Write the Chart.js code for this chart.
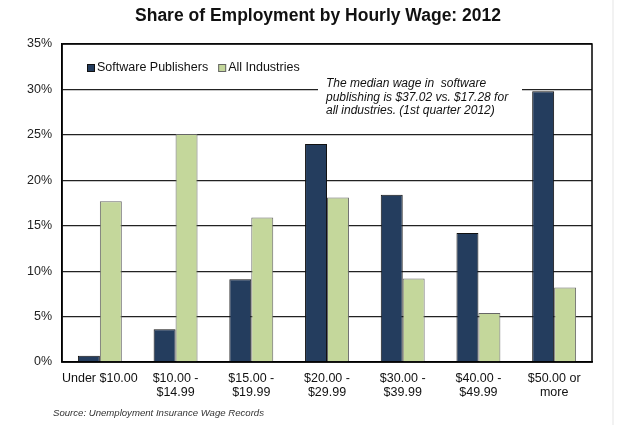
<!DOCTYPE html>
<html>
<head>
<meta charset="utf-8">
<script src="https://cdn.jsdelivr.net/npm/chart.js@4/dist/chart.umd.min.js"></script>
<style>
  html, body { margin: 0; padding: 0; background: #fff; }
  #wrap { width: 640px; height: 425px; position: relative; }
</style>
</head>
<body>
<div id="wrap"><canvas id="wages"></canvas></div>
<script>
const categories = [
  ['Under $10.00'],
  ['$10.00 -', '$14.99'],
  ['$15.00 -', '$19.99'],
  ['$20.00 -', '$29.99'],
  ['$30.00 -', '$39.99'],
  ['$40.00 -', '$49.99'],
  ['$50.00 or', 'more']
]
const softwarePublishers = [0.7, 3.6, 9.1, 24.0, 18.4, 14.2, 29.8]
const allIndustries = [17.7, 25.1, 15.9, 18.1, 9.2, 5.4, 8.2]
const seriesNames = ['Software Publishers', 'All Industries']
const titleText = 'Share of Employment by Hourly Wage: 2012'
const noteLines = [
  'The median wage in  software',
  'publishing is $37.02 vs. $17.28 for',
  'all industries. (1st quarter 2012)'
]
const sourceText = 'Source: Unemployment Insurance Wage Records'

const navy = '#243d5e'
const green = '#c4d79b'

// title, legend, note box, frame and source line drawn on top of the plot
const extras = {
  id: 'extras',
  afterDraw(chart) {
    const ctx = chart.ctx
    const area = chart.chartArea
    ctx.save()

    // title, centred on the page
    ctx.fillStyle = '#111'
    ctx.font = 'bold 17.5px "Liberation Sans", Arial, sans-serif'
    ctx.textAlign = 'center'
    ctx.textBaseline = 'middle'
    ctx.fillText(titleText, 318, 16.5)

    // frame round the plot
    ctx.strokeStyle = '#000'
    ctx.lineWidth = 1.5
    ctx.strokeRect(area.left, area.top, area.right - area.left, area.bottom - area.top)

    // legend inside the plot
    ctx.font = '12.5px "Liberation Sans", Arial, sans-serif'
    ctx.textAlign = 'left'
    let x = 87
    const y = 68
    chart.data.datasets.forEach(ds => {
      ctx.fillStyle = ds.backgroundColor
      ctx.fillRect(x, y - 4, 8, 8)
      ctx.strokeStyle = ds.borderColor
      ctx.lineWidth = 1
      ctx.strokeRect(x + 0.5, y - 3.5, 7, 7)
      ctx.fillStyle = '#111'
      ctx.fillText(ds.label, x + 10, y)
      x += 10 + ctx.measureText(ds.label).width + 10
    })

    // note box
    ctx.fillStyle = '#fff'
    ctx.fillRect(318, 77, 204, 40)
    ctx.fillStyle = '#111'
    ctx.font = 'italic 12px "Liberation Sans", Arial, sans-serif'
    noteLines.forEach((line, i) => {
      ctx.fillText(line, 326, 83.5 + i * 13.7)
    })

    // source
    ctx.fillStyle = '#333'
    ctx.font = 'italic 9.6px "Liberation Sans", Arial, sans-serif'
    ctx.fillText(sourceText, 53, 413)

    // faint page edge on the right
    ctx.strokeStyle = '#eeeeee'
    ctx.lineWidth = 1.5
    ctx.beginPath()
    ctx.moveTo(613, 0)
    ctx.lineTo(613, 425)
    ctx.stroke()

    ctx.restore()
  }
}

new Chart("wages", {
  type: "bar",
  data: {
    labels: categories,
    datasets: [{
      label: seriesNames[0],
      data: softwarePublishers,
      backgroundColor: navy,
      borderColor: '#111',
      borderWidth: 1
    }, {
      label: seriesNames[1],
      data: allIndustries,
      backgroundColor: green,
      borderColor: '#666',
      borderWidth: 1
    }]
  },
  options: {
    responsive: true,
    maintainAspectRatio: false,
    animation: false,
    layout: {
      padding: { left: 0, right: 48, top: 44, bottom: 23 }
    },
    datasets: {
      bar: {
        categoryPercentage: 0.58,
        barPercentage: 1
      }
    },
    plugins: {
      legend: { display: false },
      tooltip: { enabled: false },
      title: { display: false }
    },
    scales: {
      x: {
        grid: { display: false },
        border: { display: true, color: '#000', width: 1.5 },
        ticks: {
          color: '#111',
          padding: 2,
          maxRotation: 0,
          autoSkip: false,
          font: { family: '"Liberation Sans", Arial, sans-serif', size: 12.5, lineHeight: 1.1 }
        },
        afterFit(scale) { scale.height = 40 }
      },
      y: {
        min: 0,
        max: 35,
        grid: { color: '#222', lineWidth: 1.2, drawTicks: false },
        border: { display: true, color: '#000', width: 1.5 },
        ticks: {
          stepSize: 5,
          color: '#222',
          padding: 10,
          font: { family: '"Liberation Sans", Arial, sans-serif', size: 12.5 },
          callback: v => v + '%'
        },
        afterFit(scale) { scale.width = 62 }
      }
    }
  },
  plugins: [extras]
})
</script>
</body>
</html>
